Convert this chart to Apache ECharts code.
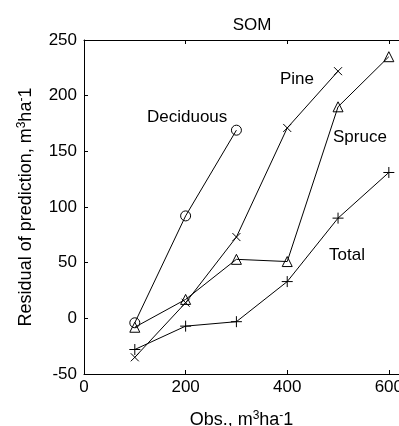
<!DOCTYPE html>
<html lang="en">
<head>
    <meta charset="UTF-8"/>
    <title>SOM</title>
    <script src="https://cdn.jsdelivr.net/npm/echarts@6/dist/echarts.min.js"></script>
    <style>body{margin:0;background:#fff;}</style>
</head>
<body>
<div id="main" style="width: 399px;height: 426px;"></div>
<script type="text/javascript">
    // observed volume classes (m3/ha)
    var obs = [100, 200, 300, 400, 500, 600];
    var deciduous = [-4, 92, 169];
    var pine = [-35, 14, 73, 171, 222];
    var spruce = [-8, 17, 53, 51, 190, 235];
    var total = [-28, -7, -3, 33, 90, 131];
    var xTicks = [0, 200, 400, 600];
    var yTicks = [-50, 0, 50, 100, 150, 200, 250];

    var FONT = 'Liberation Sans, Arial, sans-serif';
    var plusPath = 'path://M0,5L10,5M5,0L5,10';
    var crossPath = 'path://M0,0L10,10M10,0L0,10';

    function pairs(vals) {
        var out = [];
        for (var i = 0; i < vals.length; i++) out.push([obs[i], vals[i]]);
        return out;
    }

    function line(name, vals, symbol, size) {
        return {
            name: name,
            type: 'line',
            data: pairs(vals),
            symbol: symbol,
            symbolSize: size,
            showAllSymbol: true,
            lineStyle: {color: '#000', width: 1},
            itemStyle: {color: 'transparent', borderColor: '#000', borderWidth: 1},
            animation: false
        };
    }

    var rich = {
        a: {fontSize: 18, fontFamily: FONT, color: '#000'},
        s: {fontSize: 12, fontFamily: FONT, color: '#000', verticalAlign: 'top', padding: [0, 0, 8, 0]}
    };

    var myChart = echarts.init(document.getElementById('main'));
    myChart.setOption({
        title: {
            text: 'SOM',
            left: 247,
            top: 12,
            textAlign: 'center',
            textStyle: {fontFamily: FONT, fontSize: 17, fontWeight: 'normal', color: '#000'}
        },
        grid: {left: 84, right: 0, top: 40, bottom: 52, containLabel: false, outerBoundsMode: 'none'},
        xAxis: [{
            type: 'value', min: 0, max: 620, interval: 200,
            axisLine: {onZero: false, lineStyle: {color: '#000'}},
            axisTick: {inside: true, length: 4, lineStyle: {color: '#000'}},
            splitLine: {show: false},
            axisLabel: {
                color: '#000', fontFamily: FONT, fontSize: 17, margin: 5,
                formatter: function (v) { return xTicks.indexOf(v) >= 0 ? String(v) : ''; }
            },
            name: '{a|Obs., m}{s|3}{a|ha}{s|-}{a|1}',
            nameLocation: 'middle',
            nameGap: 36,
            nameTextStyle: {rich: rich}
        }, {
            type: 'value', position: 'top', min: 0, max: 620, interval: 200,
            axisLine: {show: true, onZero: false, lineStyle: {color: '#000'}},
            axisTick: {inside: true, length: 4, lineStyle: {color: '#000'}},
            axisLabel: {show: false},
            splitLine: {show: false}
        }],
        yAxis: [{
            type: 'value', min: yTicks[0], max: yTicks[yTicks.length - 1], interval: 50,
            axisLine: {show: true, onZero: false, lineStyle: {color: '#000'}},
            axisTick: {show: true, inside: true, length: 4, lineStyle: {color: '#000'}},
            splitLine: {show: false},
            axisLabel: {color: '#000', fontFamily: FONT, fontSize: 17, margin: 7},
            name: '{a|Residual of prediction, m}{s|3}{a|ha}{s|-}{a|1}',
            nameLocation: 'middle',
            nameGap: 48,
            nameTextStyle: {rich: rich}
        }],
        series: [
            line('Deciduous', deciduous, 'circle', 10),
            line('Pine', pine, crossPath, 8),
            line('Spruce', spruce, 'triangle', 10),
            line('Total', total, plusPath, 11)
        ],
        graphic: [
            {type: 'text', left: 147, top: 109, style: {text: 'Deciduous', font: '17px ' + FONT, fill: '#000'}},
            {type: 'text', left: 280, top: 71, style: {text: 'Pine', font: '17px ' + FONT, fill: '#000'}},
            {type: 'text', left: 333, top: 129, style: {text: 'Spruce', font: '17px ' + FONT, fill: '#000'}},
            {type: 'text', left: 329, top: 247, style: {text: 'Total', font: '17px ' + FONT, fill: '#000'}}
        ]
    });
</script>
</body>
</html>
